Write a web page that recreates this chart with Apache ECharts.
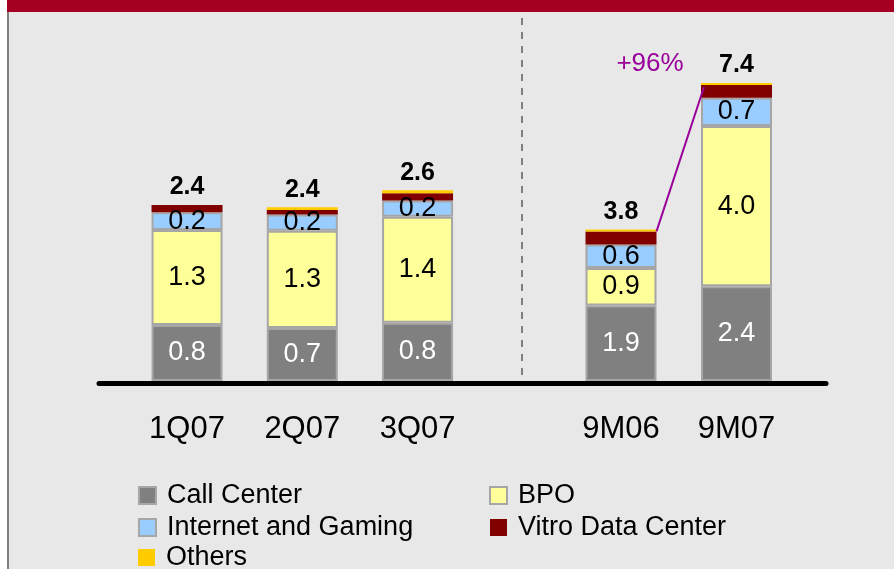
<!DOCTYPE html>
<html>
<head>
<meta charset="utf-8">
<script src="https://cdn.jsdelivr.net/npm/echarts@6/dist/echarts.min.js"></script>
<style>
  body { margin: 0; background: #fff; }
  #main { width: 894px; height: 569px; }
</style>
</head>
<body>
<div id="main"></div>
<script>
var quarters = ['1Q07', '2Q07', '3Q07'];
var ninemonths = ['9M06', '9M07'];
// 1Q07, 2Q07, 3Q07, 9M06, 9M07
var callCenter = [0.76, 0.72, 0.79, 1.88, 2.36];
var bpo = [1.29, 1.32, 1.44, 0.94, 4.0];
var internet = [0.24, 0.22, 0.22, 0.58, 0.70];
var vitro = [0.10, 0.06, 0.10, 0.33, 0.32];
var others = [0.00, 0.04, 0.04, 0.05, 0.05];
var totals = [2.4, 2.4, 2.6, 3.8, 7.4];
var growth = '+96%';

var chart = echarts.init(document.getElementById('main'));
var font = 'Liberation Sans, Arial, sans-serif';
var barW = 71;

function stackSeries(grp) {
    var off = grp === 0 ? 0 : 3;
    var n = grp === 0 ? 3 : 2;
    function part(arr) { return arr.slice(off, off + n); }
    var base = {
        type: 'bar',
        stack: 's' + grp,
        xAxisIndex: grp,
        yAxisIndex: grp,
        barWidth: barW
    };
    var segLabel = function(color) {
        return {
            show: true,
            position: 'inside',
            fontSize: 27,
            color: color,
            formatter: function(p) { return p.value.toFixed(1); }
        };
    };
    return [
        Object.assign({}, base, {
            name: 'Call Center', data: part(callCenter),
            itemStyle: { color: '#808080', borderColor: '#a6a6a6', borderWidth: 2 },
            label: segLabel('#fff')
        }),
        Object.assign({}, base, {
            name: 'BPO', data: part(bpo),
            itemStyle: { color: '#ffff99', borderColor: '#a6a6a6', borderWidth: 2 },
            label: segLabel('#000')
        }),
        Object.assign({}, base, {
            name: 'Internet and Gaming', data: part(internet),
            itemStyle: { color: '#99ccff', borderColor: '#a6a6a6', borderWidth: 2 },
            label: segLabel('#000')
        }),
        Object.assign({}, base, {
            name: 'Vitro Data Center', data: part(vitro),
            itemStyle: { color: '#800000' }
        }),
        Object.assign({}, base, {
            name: 'Others', data: part(others),
            itemStyle: { color: '#ffcc00' },
            label: {
                show: true,
                position: 'top',
                distance: 5,
                fontSize: 25,
                fontWeight: 'bold',
                color: '#000',
                formatter: function(p) { return totals[off + p.dataIndex].toFixed(1); }
            }
        })
    ];
}

var xLabel = { fontSize: 31, color: '#000', margin: 33 };

function legendAt(left, top, names) {
    return {
        orient: 'vertical', left: left, top: top, padding: 0,
        itemWidth: 17, itemHeight: 17, itemGap: 5,
        icon: 'rect',
        data: names,
        textStyle: { fontSize: 27, color: '#000', lineHeight: 26, padding: [0, 0, 0, 6] }
    };
}

var baseGraphic = [
    { type: 'rect', shape: { x: 0, y: 0, width: 7, height: 569 }, style: { fill: '#fff' }, silent: true },
    { type: 'line', shape: { x1: 8, y1: 0, x2: 8, y2: 569 }, style: { stroke: '#808080', lineWidth: 2 }, silent: true },
    { type: 'rect', shape: { x: 7, y: 0, width: 887, height: 12 }, style: { fill: '#a50021' }, silent: true },
    { type: 'line', shape: { x1: 522, y1: 18, x2: 522, y2: 376 },
      style: { stroke: '#808080', lineWidth: 2, lineDash: [7, 7] }, silent: true },
    { type: 'line', shape: { x1: 99, y1: 383.5, x2: 826, y2: 383.5 },
      style: { stroke: '#000', lineWidth: 5, lineCap: 'round' }, z: 10, silent: true }
];

var option = {
    backgroundColor: '#e8e8e8',
    animation: false,
    textStyle: { fontFamily: font },
    grid: [
        { left: 129.4, right: 418.8, top: 20, bottom: 188 },
        { left: 563.25, right: 99.75, top: 20, bottom: 188 }
    ],
    xAxis: [
        { type: 'category', gridIndex: 0, data: quarters, axisLine: { show: false }, axisTick: { show: false }, axisLabel: xLabel },
        { type: 'category', gridIndex: 1, data: ninemonths, axisLine: { show: false }, axisTick: { show: false }, axisLabel: xLabel }
    ],
    yAxis: [
        { type: 'value', gridIndex: 0, min: 0, max: 4.9, show: false },
        { type: 'value', gridIndex: 1, min: 0, max: 9, show: false }
    ],
    legend: [
        legendAt(138, 482, ['Call Center', 'Internet and Gaming']),
        legendAt(489, 482, ['BPO', 'Vitro Data Center']),
        legendAt(138, 544, ['Others'])
    ],
    graphic: baseGraphic,
    series: stackSeries(0).concat(stackSeries(1))
};

chart.setOption(option);

// growth connector between the two 9M bars
function topNoOthers(i) { return callCenter[i] + bpo[i] + internet[i] + vitro[i]; }
var pA = chart.convertToPixel({ xAxisIndex: 1, yAxisIndex: 1 }, [0, topNoOthers(3)]);
var pB = chart.convertToPixel({ xAxisIndex: 1, yAxisIndex: 1 }, [1, topNoOthers(4)]);
var pTop = chart.convertToPixel({ xAxisIndex: 1, yAxisIndex: 1 }, [1, totals[4]]);
var extra = [
    { type: 'line', shape: { x1: pA[0] + barW / 2, y1: pA[1], x2: pB[0] - barW / 2 + 3, y2: pB[1] + 2 },
      style: { stroke: '#990099', lineWidth: 2 }, z: 20, silent: true },
    { type: 'text', x: pA[0] + 29, y: pTop[1] - 20,
      style: { text: growth, fill: '#990099', font: '26px ' + font, align: 'center', verticalAlign: 'middle' },
      z: 20, silent: true }
];
chart.setOption({ graphic: baseGraphic.concat(extra) });
</script>
</body>
</html>
